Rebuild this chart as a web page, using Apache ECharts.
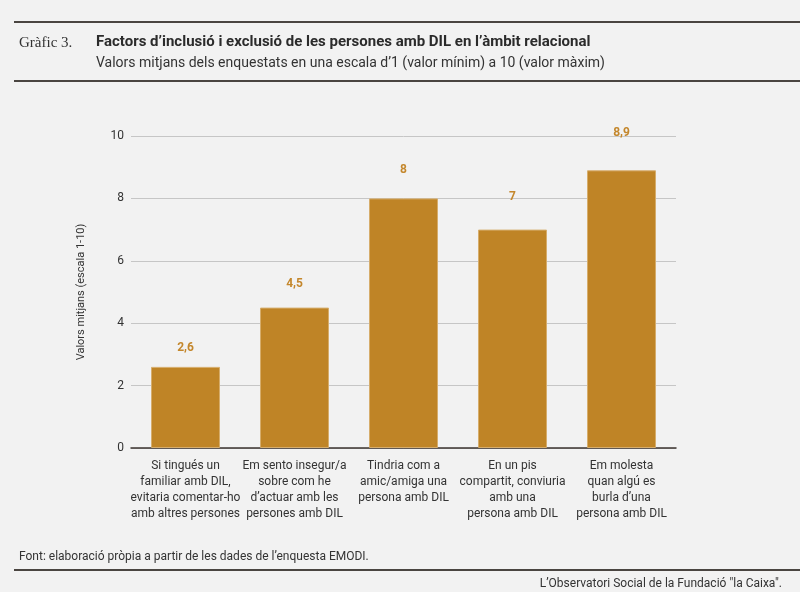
<!DOCTYPE html>
<html>
<head>
<meta charset="utf-8">
<script src="https://cdn.jsdelivr.net/npm/echarts@6/dist/echarts.min.js"></script>
<style>
  html, body { margin: 0; padding: 0; background: #f2f2f2; }
  #chart { width: 800px; height: 592px; }
</style>
</head>
<body>
<div id="chart"></div>
<script>
var categories = [
  'Si tingués un\nfamiliar amb DIL,\nevitaria comentar-ho\namb altres persones',
  'Em sento insegur/a\nsobre com he\nd’actuar amb les\npersones amb DIL',
  'Tindria com a\namic/amiga una\npersona amb DIL',
  'En un pis\ncompartit, conviuria\namb una\npersona amb DIL',
  'Em molesta\nquan algú es\nburla d’una\npersona amb DIL'
]
var values = [2.6, 4.5, 8, 7, 8.9]
var yTicks = [0, 2, 4, 6, 8, 10]

var barColor = '#bf8426'
var font = 'Roboto'

var dom = document.getElementById('chart')
var chart = echarts.init(dom)
chart.setOption({
  backgroundColor: '#f2f2f2',
  animation: false,
  title: [
    {
      text: 'Gràfic 3.',
      left: 14, top: 31,
      textStyle: { fontFamily: 'Liberation Serif', fontSize: 15, fontWeight: 'normal', color: '#333' }
    },
    {
      text: 'Factors d’inclusió i exclusió de les persones amb DIL en l’àmbit relacional',
      left: 91, top: 30,
      textStyle: { fontFamily: font, fontSize: 15, fontWeight: 'bold', color: '#2b2b2b' }
    },
    {
      text: 'Valors mitjans dels enquestats en una escala d’1 (valor mínim) a 10 (valor màxim)',
      left: 91, top: 51,
      textStyle: { fontFamily: font, fontSize: 14, fontWeight: 'normal', color: '#333' }
    },
    {
      text: 'Font: elaboració pròpia a partir de les dades de l’enquesta EMODI.',
      left: 14, top: 546,
      textStyle: { fontFamily: font, fontSize: 12, fontWeight: 'normal', color: '#333' }
    },
    {
      text: 'L’Observatori Social de la Fundació "la Caixa".',
      right: 13, top: 573,
      textStyle: { fontFamily: font, fontSize: 12, fontWeight: 'normal', color: '#333' }
    }
  ],
  graphic: [
    { type: 'rect', shape: { x: 14, y: 21, width: 786, height: 2 }, style: { fill: '#4a4541' } },
    { type: 'rect', shape: { x: 14, y: 80, width: 786, height: 2 }, style: { fill: '#4a4541' } },
    { type: 'rect', shape: { x: 14, y: 569, width: 786, height: 2 }, style: { fill: '#4a4541' } }
  ],
  grid: { left: 131, right: 124, top: 136, bottom: 144 },
  xAxis: {
    type: 'category',
    data: categories,
    axisTick: { show: false },
    axisLine: { lineStyle: { color: '#3d3530', width: 1.5 } },
    axisLabel: {
      interval: 0, margin: 10, lineHeight: 16,
      fontFamily: font, fontSize: 12, color: '#333'
    }
  },
  yAxis: {
    type: 'value',
    min: yTicks[0], max: yTicks[yTicks.length - 1], interval: 2,
    name: 'Valors mitjans (escala 1-10)',
    nameLocation: 'middle', nameGap: 44,
    nameTextStyle: { fontFamily: font, fontSize: 11, color: '#333' },
    axisLine: { show: false },
    axisTick: { show: false },
    axisLabel: { margin: 7, fontFamily: font, fontSize: 12, color: '#333' },
    splitLine: { lineStyle: { color: '#c6c6c6', width: 1 } }
  },
  series: [{
    type: 'bar',
    barWidth: 69,
    data: values.map(function (v, i) {
      return { value: v, label: { distance: 13 + i * 4.5 } }
    }),
    itemStyle: { color: barColor, borderColor: '#d6ad6c', borderWidth: 1 },
    label: {
      show: true, position: 'top',
      fontFamily: font, fontSize: 12, fontWeight: 'bold', color: '#c4872c',
      formatter: function (p) { return String(p.value).replace('.', ',') }
    }
  }]
})
</script>
</body>
</html>
